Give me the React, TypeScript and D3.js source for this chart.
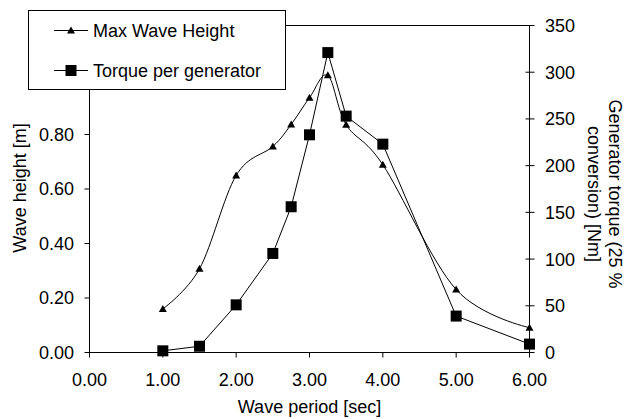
import React from "react";
import * as d3 from "d3";

const periods = [1.0, 1.5, 2.0, 2.5, 2.75, 3.0, 3.25, 3.5, 4.0, 5.0, 6.0];
const waveHeight = [0.16, 0.307, 0.65, 0.756, 0.837, 0.935, 1.017, 0.836, 0.689, 0.231, 0.091];
const torque = [1.8, 6.7, 51, 106, 156, 233, 321, 253, 223, 39, 9];
const xTicks = [0, 1, 2, 3, 4, 5, 6];
const leftTicks = [0, 0.2, 0.4, 0.6, 0.8, 1.0, 1.2];
const rightTicks = [0, 50, 100, 150, 200, 250, 300, 350];
const seriesNames = ["Max Wave Height", "Torque per generator"];

const W = 624, H = 419;
const L = 89.5, R = 529.5, T = 25.5, B = 352.5;
const FONT = "'Liberation Sans', Arial, sans-serif";

export default function App() {
  const x = d3.scaleLinear().domain([0, 6]).range([L, R]);
  const yL = d3.scaleLinear().domain([0, 1.2]).range([B, T]);
  const yR = d3.scaleLinear().domain([0, 350]).range([B, T]);

  const wavePts: [number, number][] = periods.map((p, i) => [x(p), yL(waveHeight[i])]);
  const torquePts: [number, number][] = periods.map((p, i) => [x(p), yR(torque[i])]);
  const smooth = d3.line().curve(d3.curveCardinal.tension(0));
  const straight = d3.line();

  const tri = (cx: number, cy: number, s = 4) =>
    `M${cx},${cy - s}L${cx + s},${cy + s * 0.75}L${cx - s},${cy + s * 0.75}Z`;
  const sq = 11;

  return (
    <svg width={W} height={H} style={{ position: "absolute", left: 0, top: 0 }} fontFamily={FONT}>
      <rect x={0} y={0} width={W} height={H} fill="#fff" />
      {/* frame */}
      <rect x={L} y={T} width={R - L} height={B - T} fill="none" stroke="#000" strokeWidth={1} />
      {/* x ticks */}
      {xTicks.map((t) => (
        <g key={"x" + t}>
          <line x1={x(t)} x2={x(t)} y1={B} y2={B + 5} stroke="#000" />
          <text x={x(t)} y={386} fontSize={18} textAnchor="middle" fill="#000">
            {t.toFixed(2)}
          </text>
        </g>
      ))}
      {/* left ticks */}
      {leftTicks.map((t) => (
        <g key={"l" + t}>
          <line x1={L - 5} x2={L} y1={yL(t)} y2={yL(t)} stroke="#000" />
          <text x={74} y={yL(t)} dy="0.36em" fontSize={18} textAnchor="end" fill="#000">
            {t.toFixed(2)}
          </text>
        </g>
      ))}
      {/* right ticks */}
      {rightTicks.map((t) => (
        <g key={"r" + t}>
          <line x1={R - 4} x2={R + 5} y1={yR(t)} y2={yR(t)} stroke="#000" />
          <text x={545} y={yR(t)} dy="0.36em" fontSize={18} textAnchor="start" fill="#000">
            {t}
          </text>
        </g>
      ))}
      {/* axis titles */}
      <text x={309.5} y={413} fontSize={18} textAnchor="middle" fill="#000">
        Wave period [sec]
      </text>
      <text transform="translate(26,188) rotate(-90)" fontSize={18} textAnchor="middle" fill="#000">
        Wave height [m]
      </text>
      <text transform="translate(609,194) rotate(90)" fontSize={18} textAnchor="middle" fill="#000">
        Generator torque (25 %
      </text>
      <text transform="translate(588,194) rotate(90)" fontSize={18} textAnchor="middle" fill="#000">
        conversion) [Nm]
      </text>
      {/* series */}
      <path d={smooth(wavePts) || ""} fill="none" stroke="#000" strokeWidth={1} />
      <path d={straight(torquePts) || ""} fill="none" stroke="#000" strokeWidth={1} />
      {wavePts.map(([cx, cy], i) => (
        <path key={"t" + i} d={tri(cx, cy)} fill="#000" />
      ))}
      {torquePts.map(([cx, cy], i) => (
        <rect key={"s" + i} x={cx - sq / 2} y={cy - sq / 2} width={sq} height={sq} fill="#000" />
      ))}
      {/* legend */}
      <rect x={28.5} y={10.5} width={257} height={79} fill="#fff" stroke="#000" strokeWidth={1} />
      <line x1={54} x2={88} y1={30.5} y2={30.5} stroke="#000" />
      <path d={tri(71, 30.5)} fill="#000" />
      <text x={93} y={30.5} dy="0.36em" fontSize={18} fill="#000">
        {seriesNames[0]}
      </text>
      <line x1={54} x2={88} y1={70.5} y2={70.5} stroke="#000" />
      <rect x={71 - sq / 2} y={70.5 - sq / 2} width={sq} height={sq} fill="#000" />
      <text x={93} y={70.5} dy="0.36em" fontSize={18} fill="#000">
        {seriesNames[1]}
      </text>
    </svg>
  );
}
